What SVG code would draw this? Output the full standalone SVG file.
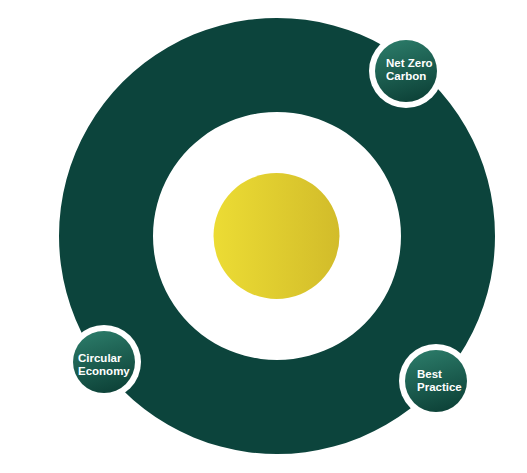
<svg xmlns="http://www.w3.org/2000/svg" width="527" height="473" viewBox="0 0 527 473">
<defs>
<linearGradient id="yel" x1="0" y1="0" x2="1" y2="0">
<stop offset="0" stop-color="#ecdc34"/>
<stop offset="1" stop-color="#d2bc2a"/>
</linearGradient>
<linearGradient id="grn" x1="0.3" y1="0" x2="0.6" y2="1">
<stop offset="0" stop-color="#2b7a68"/>
<stop offset="1" stop-color="#0d4238"/>
</linearGradient>
</defs>
<style>
.ring{fill:#0c443c;fill-rule:evenodd}
.halo{fill:#ffffff}
.badge{fill:url(#grn)}
.lbl{font-family:"Liberation Sans",Arial,sans-serif;font-weight:bold;font-size:11.5px;fill:#ffffff}
</style>
<g id="ring">
<path class="ring" d="M277,18 a218,218 0 1,0 0.01,0 Z M277,112 a124,124 0 1,1 -0.01,0 Z"/>
</g>
<g id="core">
<circle cx="276.5" cy="236" r="63" fill="url(#yel)"/>
</g>
<g id="connectors"></g>
<g id="net-zero-carbon">
<circle class="halo" cx="406" cy="71" r="37"/>
<circle class="badge" cx="406" cy="71" r="31"/>
<text class="lbl" x="386" y="67">Net Zero</text>
<text class="lbl" x="386" y="79.5">Carbon</text>
</g>
<g id="circular-economy">
<circle class="halo" cx="104" cy="362" r="37"/>
<circle class="badge" cx="104" cy="362" r="31"/>
<text class="lbl" x="78" y="362">Circular</text>
<text class="lbl" x="78" y="375">Economy</text>
</g>
<g id="best-practice">
<circle class="halo" cx="436" cy="381" r="37"/>
<circle class="badge" cx="436" cy="381" r="31"/>
<text class="lbl" x="417" y="378">Best</text>
<text class="lbl" x="417" y="390.5">Practice</text>
</g>
</svg>
